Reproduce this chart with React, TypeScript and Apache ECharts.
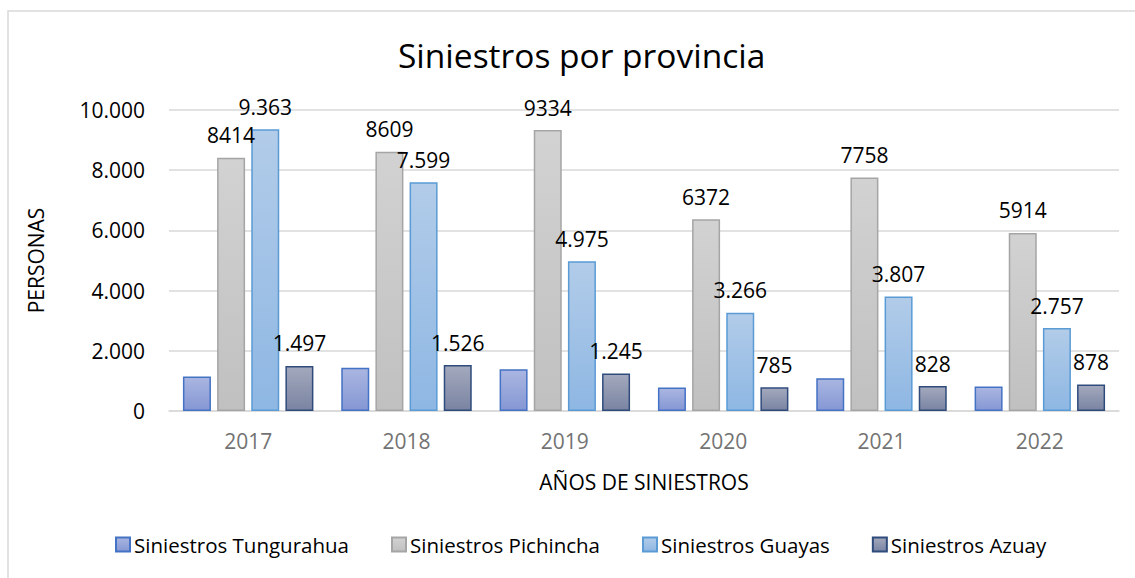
import React, { useEffect, useRef } from "react";
import * as echarts from "echarts";

const years = ["2017", "2018", "2019", "2020", "2021", "2022"];
const tungurahua = [1150, 1440, 1390, 780, 1090, 810];
const pichincha = [8414, 8609, 9334, 6372, 7758, 5914];
const guayas = [9363, 7599, 4975, 3266, 3807, 2757];
const azuay = [1497, 1526, 1245, 785, 828, 878];

const FONT = "'Open Sans', sans-serif";

const dotted = (v: number) => String(Math.round(v)).replace(/\B(?=(\d{3})+(?!\d))/g, ".");

const grad = (top: string, bottom: string) =>
  new echarts.graphic.LinearGradient(0, 0, 0, 1, [
    { offset: 0, color: top },
    { offset: 1, color: bottom },
  ]);

export default function App() {
  const ref = useRef<HTMLDivElement>(null);
  useEffect(() => {
    if (!ref.current) return;
    const chart = echarts.init(ref.current, null, { renderer: "svg" });
    const labelBase = {
      show: true,
      position: "top" as const,
      distance: 12,
      color: "#000000",
      fontSize: 21,
      fontFamily: FONT,
    };
    const mk = (
      name: string,
      data: number[],
      top: string,
      bottom: string,
      border: string,
      label: any
    ) => ({
      name,
      type: "bar" as const,
      data,
      barWidth: 28,
      barGap: "22%",
      itemStyle: { color: grad(top, bottom), borderColor: border, borderWidth: 1.5 },
      label,
    });
    chart.setOption({
      animation: false,
      backgroundColor: "#ffffff",
      graphic: [
        {
          type: "rect",
          shape: { x: 8, y: 11, width: 1200, height: 700 },
          style: { fill: "none", stroke: "#d9d9d9", lineWidth: 1.5 },
          silent: true,
        },
      ],
      title: {
        text: "Siniestros por provincia",
        left: 393,
        top: 33,
        textStyle: { fontFamily: FONT, fontSize: 33.5, fontWeight: "normal", color: "#000000" },
      },
      grid: { left: 169, right: 16, top: 110, bottom: 167, containLabel: false },
      legend: {
        bottom: 18,
        left: 110,
        itemWidth: 14,
        itemHeight: 14,
        itemGap: 42,
        icon: "rect",
        textStyle: { fontFamily: FONT, fontSize: 20.5, color: "#000000", padding: [0, 0, 0, -1] },
        data: ["Siniestros Tungurahua", "Siniestros Pichincha", "Siniestros Guayas", "Siniestros Azuay"],
      },
      xAxis: {
        type: "category",
        data: years,
        name: "AÑOS DE SINIESTROS",
        nameLocation: "middle",
        nameGap: 60,
        nameTextStyle: { fontFamily: FONT, fontSize: 21, color: "#000000" },
        axisLine: { lineStyle: { color: "#d9d9d9", width: 1.5 } },
        axisTick: { show: false },
        axisLabel: { fontFamily: FONT, fontSize: 21, color: "#737373", margin: 19 },
      },
      yAxis: {
        type: "value",
        min: 0,
        max: 10000,
        interval: 2000,
        name: "PERSONAS",
        nameLocation: "middle",
        nameGap: 123,
        nameTextStyle: { fontFamily: FONT, fontSize: 21, color: "#000000" },
        axisLine: { show: false },
        axisTick: { show: false },
        splitLine: { lineStyle: { color: "#d9d9d9", width: 1.5 } },
        axisLabel: {
          fontFamily: FONT,
          fontSize: 21,
          color: "#000000",
          margin: 24,
          formatter: (v: number) => dotted(v),
        },
      },
      series: [
        mk("Siniestros Tungurahua", tungurahua, "#aab6e1", "#8597d4", "#4472c4", { show: false }),
        mk("Siniestros Pichincha", pichincha, "#d2d2d2", "#c0c0c0", "#a5a5a5", {
          ...labelBase,
          formatter: (p: any) => String(p.value),
        }),
        mk("Siniestros Guayas", guayas, "#b2cce9", "#8eb7e3", "#5b9bd5", {
          ...labelBase,
          formatter: (p: any) => dotted(p.value),
        }),
        mk("Siniestros Azuay", azuay, "#a3a9bd", "#7a84a2", "#2f4b7c", {
          ...labelBase,
          formatter: (p: any) => dotted(p.value),
        }),
      ],
    });
    return () => chart.dispose();
  }, []);
  return (
    <div
      ref={ref}
      style={{ position: "absolute", left: 0, top: 0, width: 1135, height: 578 }}
    />
  );
}
